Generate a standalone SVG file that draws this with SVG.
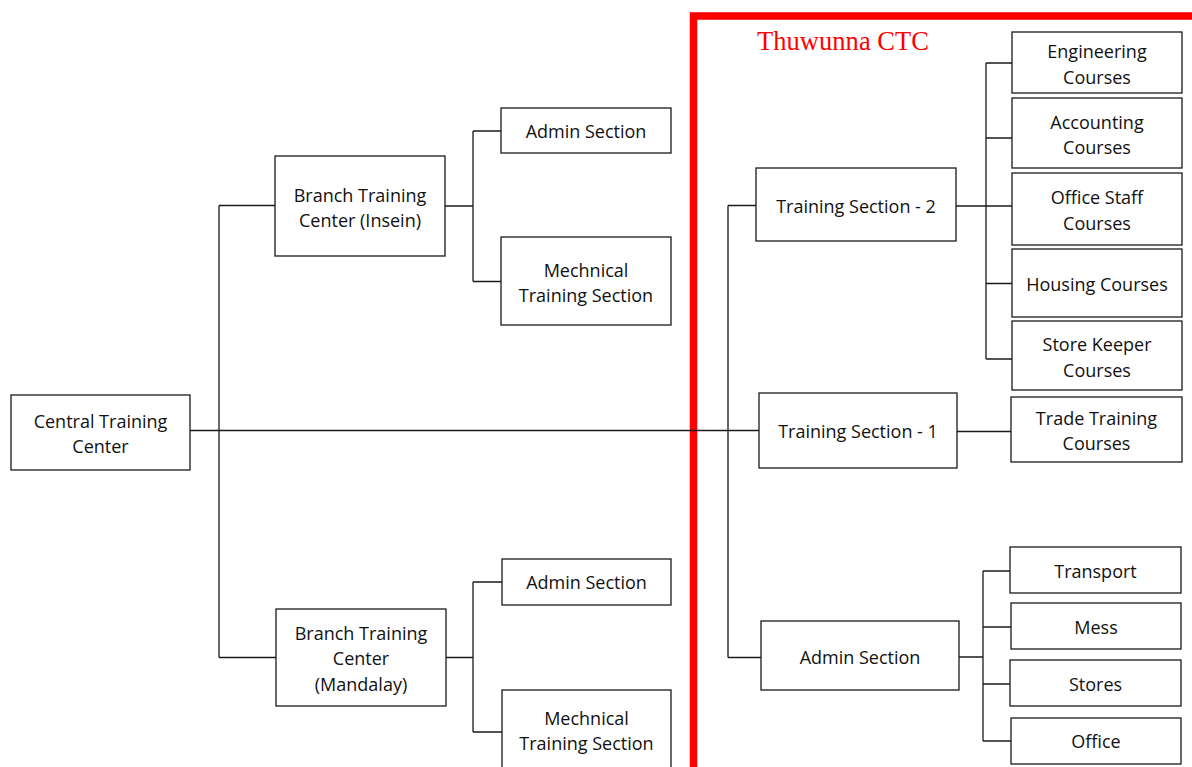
<svg xmlns="http://www.w3.org/2000/svg" width="1192" height="767" viewBox="0 0 1192 767">
  <style>
    .box { fill: #ffffff; stroke: #1a1a1a; stroke-width: 1.3; }
    .lbl { font-family: "Open Sans", "Liberation Sans", sans-serif; font-size: 18px; fill: #111111; text-anchor: middle; }
    .wire { fill: none; stroke: #1a1a1a; stroke-width: 1.3; }
    .frame { fill: none; stroke: #ff0000; stroke-width: 7.5; }
    .frame-title { font-family: "Liberation Serif", "DejaVu Serif", serif; font-size: 26.5px; fill: #ff0000; }
  </style>
  <rect width="1192" height="767" fill="#ffffff"/>

  <!-- Thuwunna CTC boundary -->
  <g id="thuwunna-frame">
    <path class="frame" d="M693.5 767 V16 H1196"/>
    <text class="frame-title" x="757" y="50" textLength="172">Thuwunna CTC</text>
  </g>

  <!-- connectors -->
  <g id="connectors">
    <!-- Central Training Center to branches and CTC sections -->
    <path class="wire" d="M190 430.5 H759"/>
    <path class="wire" d="M219 205.5 V657.5"/>
    <path class="wire" d="M219 205.5 H275"/>
    <path class="wire" d="M219 657.5 H276"/>
    <!-- Insein branch -->
    <path class="wire" d="M445 206 H473 M473 131 V281.5 M473 131 H501 M473 281.5 H501"/>
    <!-- Mandalay branch -->
    <path class="wire" d="M446 657.5 H473 M473 582 V732 M473 582 H502 M473 732 H502"/>
    <!-- Thuwunna CTC sections -->
    <path class="wire" d="M728 205.5 V657.5 M728 205.5 H756 M728 657.5 H761"/>
    <!-- Training Section - 2 courses -->
    <path class="wire" d="M956 206 H1012 M986 63 V359 M986 63 H1012 M986 138 H1012 M986 283.5 H1012 M986 359 H1012"/>
    <!-- Training Section - 1 courses -->
    <path class="wire" d="M957 431.5 H1011"/>
    <!-- Admin Section units -->
    <path class="wire" d="M959 657 H983 M983 571 V741 M983 571 H1010 M983 627 H1011 M983 684 H1010 M983 741 H1011"/>
  </g>

  <g id="central-training-center">
    <rect class="box" x="11" y="395" width="179" height="75"/>
    <text class="lbl" x="100.5" y="427.5">Central Training</text>
    <text class="lbl" x="100.5" y="452.5">Center</text>
  </g>

  <g id="branch-insein">
    <rect class="box" x="275" y="156" width="170" height="100"/>
    <text class="lbl" x="360" y="201.5">Branch Training</text>
    <text class="lbl" x="360" y="226.5">Center (Insein)</text>
  </g>
  <g id="insein-admin">
    <rect class="box" x="501" y="108" width="170" height="45"/>
    <text class="lbl" x="586" y="138">Admin Section</text>
  </g>
  <g id="insein-mechanical">
    <rect class="box" x="501" y="237" width="170" height="88"/>
    <text class="lbl" x="586" y="276.5">Mechnical</text>
    <text class="lbl" x="586" y="301.5">Training Section</text>
  </g>

  <g id="branch-mandalay">
    <rect class="box" x="276" y="609" width="170" height="97"/>
    <text class="lbl" x="361" y="639.5">Branch Training</text>
    <text class="lbl" x="361" y="664.5">Center</text>
    <text class="lbl" x="361" y="690.5">(Mandalay)</text>
  </g>
  <g id="mandalay-admin">
    <rect class="box" x="502" y="559" width="169" height="46"/>
    <text class="lbl" x="586.5" y="589">Admin Section</text>
  </g>
  <g id="mandalay-mechanical">
    <rect class="box" x="502" y="690" width="169" height="90"/>
    <text class="lbl" x="586.5" y="724.5">Mechnical</text>
    <text class="lbl" x="586.5" y="749.5">Training Section</text>
  </g>

  <g id="training-section-2">
    <rect class="box" x="756" y="168" width="200" height="73"/>
    <text class="lbl" x="856" y="213">Training Section - 2</text>
  </g>
  <g id="engineering-courses">
    <rect class="box" x="1012" y="32" width="170" height="61"/>
    <text class="lbl" x="1097" y="57.5">Engineering</text>
    <text class="lbl" x="1097" y="83.5">Courses</text>
  </g>
  <g id="accounting-courses">
    <rect class="box" x="1012" y="98" width="170" height="70"/>
    <text class="lbl" x="1097" y="128.5">Accounting</text>
    <text class="lbl" x="1097" y="153.5">Courses</text>
  </g>
  <g id="office-staff-courses">
    <rect class="box" x="1012" y="173" width="170" height="72"/>
    <text class="lbl" x="1097" y="203.5">Office Staff</text>
    <text class="lbl" x="1097" y="229.5">Courses</text>
  </g>
  <g id="housing-courses">
    <rect class="box" x="1012" y="249" width="170" height="68"/>
    <text class="lbl" x="1097" y="290.5">Housing Courses</text>
  </g>
  <g id="store-keeper-courses">
    <rect class="box" x="1012" y="321" width="170" height="69"/>
    <text class="lbl" x="1097" y="350.5">Store Keeper</text>
    <text class="lbl" x="1097" y="376.5">Courses</text>
  </g>

  <g id="training-section-1">
    <rect class="box" x="759" y="393" width="198" height="75"/>
    <text class="lbl" x="858" y="438">Training Section - 1</text>
  </g>
  <g id="trade-training-courses">
    <rect class="box" x="1011" y="397" width="171" height="65"/>
    <text class="lbl" x="1096.5" y="424.5">Trade Training</text>
    <text class="lbl" x="1096.5" y="449.5">Courses</text>
  </g>

  <g id="ctc-admin-section">
    <rect class="box" x="761" y="621" width="198" height="69"/>
    <text class="lbl" x="860" y="663.5">Admin Section</text>
  </g>
  <g id="transport">
    <rect class="box" x="1010" y="547" width="171" height="46"/>
    <text class="lbl" x="1095.5" y="577.5">Transport</text>
  </g>
  <g id="mess">
    <rect class="box" x="1011" y="603" width="170" height="46"/>
    <text class="lbl" x="1096" y="633.5">Mess</text>
  </g>
  <g id="stores">
    <rect class="box" x="1010" y="660" width="171" height="46"/>
    <text class="lbl" x="1095.5" y="690.5">Stores</text>
  </g>
  <g id="office">
    <rect class="box" x="1011" y="718" width="170" height="46"/>
    <text class="lbl" x="1096" y="747.5">Office</text>
  </g>
</svg>
